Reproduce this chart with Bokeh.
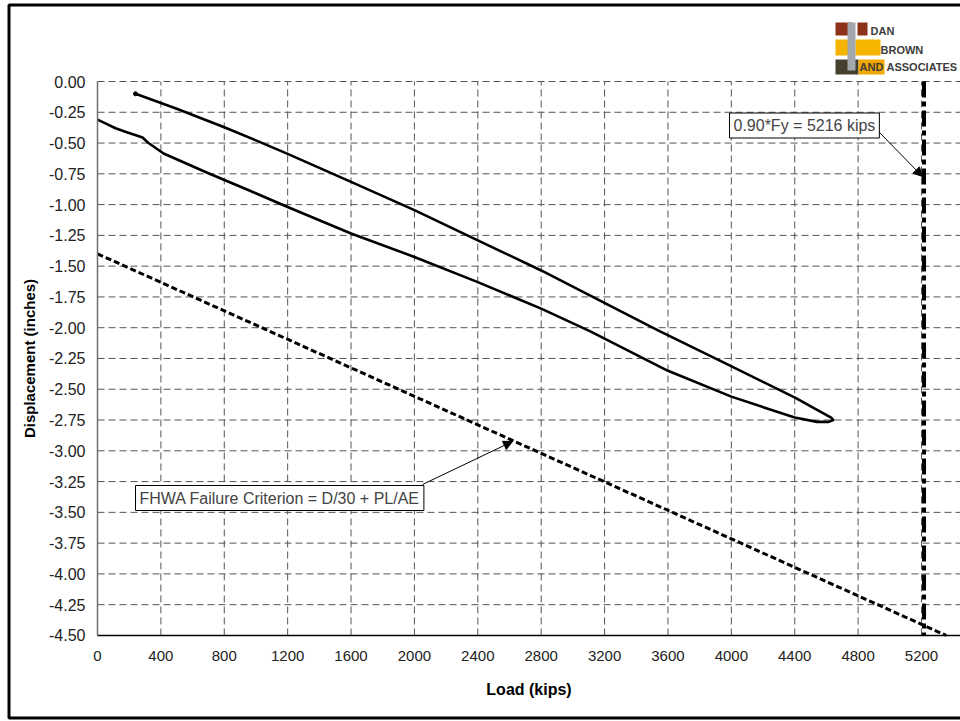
from bokeh.plotting import figure
from bokeh.models import Range1d, FixedTicker, Label, Arrow, NormalHead, BoxAnnotation
from bokeh.embed import file_html
from bokeh.resources import INLINE

# ---- data ----
load_loading = [0, 50, 114, 180, 252, 284, 322, 417, 700, 966, 1200, 1600,
                2000, 2400, 2800, 3110, 3600, 4000, 4400, 4540, 4615, 4643]
disp_loading = [-0.31, -0.34, -0.38, -0.41, -0.44, -0.455, -0.50, -0.585, -0.745, -0.89,
                -1.02, -1.235, -1.425, -1.63, -1.845, -2.03, -2.35, -2.56, -2.73,
                -2.765, -2.765, -2.75]
load_unloading = [4643, 4630, 4544, 4405, 3995, 3534, 3110, 2800, 2400, 2000, 1600, 1200,
                  1000, 800, 500, 240]
disp_unloading = [-2.75, -2.73, -2.67, -2.57, -2.31, -2.02, -1.74, -1.535, -1.29, -1.045,
                  -0.815, -0.588, -0.478, -0.372, -0.222, -0.10]
fhwa_load = [0, 5356]
fhwa_disp = [-1.40, -4.50]
fy_load = 5216

x_ticks = [0, 400, 800, 1200, 1600, 2000, 2400, 2800, 3200, 3600, 4000, 4400, 4800, 5200]
y_ticks = [0.0, -0.25, -0.5, -0.75, -1.0, -1.25, -1.5, -1.75, -2.0, -2.25, -2.5, -2.75,
           -3.0, -3.25, -3.5, -3.75, -4.0, -4.25, -4.5]
y_tick_labels = ["0.00", "-0.25", "-0.50", "-0.75", "-1.00", "-1.25", "-1.50", "-1.75",
                 "-2.00", "-2.25", "-2.50", "-2.75", "-3.00", "-3.25", "-3.50", "-3.75",
                 "-4.00", "-4.25", "-4.50"]
x_title = "Load (kips)"
y_title = "Displacement (inches)"
fy_text = "0.90*Fy = 5216 kips"
fhwa_text = "FHWA Failure Criterion = D/30 + PL/AE"
logo_words = ["DAN", "BROWN", "AND", "ASSOCIATES"]

FONT = "Liberation Sans"
W, H = 960, 720
X0, Y0 = 97.0, 81.0          # page position of the (0, 0.00) corner of the plot area
KX, KY = 0.15846, 123.1      # pixels per kip, pixels per inch
Y_MIN = -4.5

def dx(px):
    return (px - X0) / KX

def dy(py):
    return -(py - Y0) / KY

p = figure(width=W, height=H, output_backend="svg", toolbar_location=None,
           x_range=Range1d(dx(0), dx(W)), y_range=Range1d(dy(H), dy(0)),
           min_border=0, min_border_left=0, min_border_right=0,
           min_border_top=0, min_border_bottom=0)
p.background_fill_color = "white"
p.border_fill_color = "white"
p.outline_line_color = None
p.xgrid.visible = False
p.ygrid.visible = False

# axes drawn at the plot-area edges
for ax in (p.xaxis[0], p.yaxis[0]):
    ax.major_tick_line_color = None
    ax.minor_tick_line_color = None
    ax.major_label_text_font = FONT
    ax.major_label_text_color = "#222222"
    ax.axis_label_text_font = FONT
    ax.axis_label_text_font_style = "bold"
    ax.axis_label_text_color = "#000000"
p.xaxis.fixed_location = Y_MIN
p.yaxis.fixed_location = 0
p.xaxis.bounds = (0, dx(W))
p.yaxis.bounds = (Y_MIN, 0)
p.xaxis.ticker = FixedTicker(ticks=x_ticks)
p.yaxis.ticker = FixedTicker(ticks=y_ticks)
p.yaxis.major_label_overrides = {t: s for t, s in zip(y_ticks, y_tick_labels)}
p.xaxis.major_label_text_font_size = "15px"
p.yaxis.major_label_text_font_size = "16px"
p.xaxis.axis_label = x_title
p.yaxis.axis_label = y_title
p.xaxis.axis_label_text_font_size = "16px"
p.yaxis.axis_label_text_font_size = "15px"
p.xaxis.major_label_standoff = 10
p.yaxis.major_label_standoff = 6
p.xaxis.axis_label_standoff = 16
p.yaxis.axis_label_standoff = 8
p.xaxis.axis_line_color = "black"
p.xaxis.axis_line_width = 1.5
p.yaxis.axis_line_color = "#707070"
p.yaxis.axis_line_width = 1.5

# dashed grid limited to the plot area
p.segment(x0=x_ticks, x1=x_ticks, y0=[Y_MIN] * len(x_ticks), y1=[0.0] * len(x_ticks),
          line_color="#555555", line_width=1, line_dash="7 4")
p.segment(x0=[0] * (len(y_ticks) - 1), x1=[dx(W)] * (len(y_ticks) - 1),
          y0=y_ticks[:-1], y1=y_ticks[:-1],
          line_color="#555555", line_width=1, line_dash="7 4")

# FHWA criterion
p.line(fhwa_load, fhwa_disp, line_color="black", line_width=3, line_dash="6 3")
# 0.9 Fy line
p.line([fy_load, fy_load], [0.0, Y_MIN], line_color="black", line_width=4,
       line_dash="16 4 5 4")
# load test curve
p.line(load_loading + load_unloading, disp_loading + disp_unloading,
       line_color="black", line_width=2.6, line_join="round")
p.scatter([load_unloading[-1]], [disp_unloading[-1]], size=4, color="black")

# call-outs
p.add_layout(Arrow(end=NormalHead(size=9, fill_color="black", line_color="black"),
                   x_start=dx(878), y_start=dy(131), x_end=dx(922), y_end=dy(176),
                   line_color="black", line_width=1))
p.add_layout(Arrow(end=NormalHead(size=9, fill_color="black", line_color="black"),
                   x_start=dx(422), y_start=dy(484), x_end=dx(512), y_end=dy(441),
                   line_color="black", line_width=1))
p.add_layout(Label(x=dx(729), y=dy(125), text=fy_text, text_font=FONT,
                   text_font_size="16px", text_baseline="middle", text_align="left",
                   border_line_color="black", border_line_width=1,
                   background_fill_color="white", padding=4))
p.add_layout(Label(x=dx(135), y=dy(497.5), text=fhwa_text, text_font=FONT,
                   text_font_size="16px", text_baseline="middle", text_align="left",
                   border_line_color="black", border_line_width=1,
                   background_fill_color="white", padding=4))

# logo (decoration)
def box(l, r, t, b, c):
    p.add_layout(BoxAnnotation(left=dx(l), right=dx(r), top=dy(t), bottom=dy(b),
                               fill_color=c, fill_alpha=1, line_color=None))
box(835, 852, 22, 35, "#8E3119")
box(857, 867, 22, 35, "#8E3119")
box(835, 852, 39, 55, "#F5B400")
box(855, 880, 39, 55, "#F5B400")
box(835, 858, 59, 74, "#45402E")
box(858, 884, 59, 74, "#F0A800")
box(847, 855, 22, 70, "#A3A7AE")
for txt, lx, ly in zip(logo_words, (870, 880, 859, 886), (30.5, 49, 66.5, 66.5)):
    p.add_layout(Label(x=dx(lx), y=dy(ly), text=txt, text_font=FONT,
                       text_font_style="bold", text_font_size="11px",
                       text_color="#3C3C3C", text_baseline="middle", text_align="left"))

# outer frame of the chart
p.add_layout(BoxAnnotation(left=dx(8.5), right=dx(W + 20), top=dy(4.5), bottom=dy(717.5),
                           fill_alpha=0, line_color="black", line_alpha=1, line_width=3))

open("out.html", "w").write(file_html(p, INLINE))
